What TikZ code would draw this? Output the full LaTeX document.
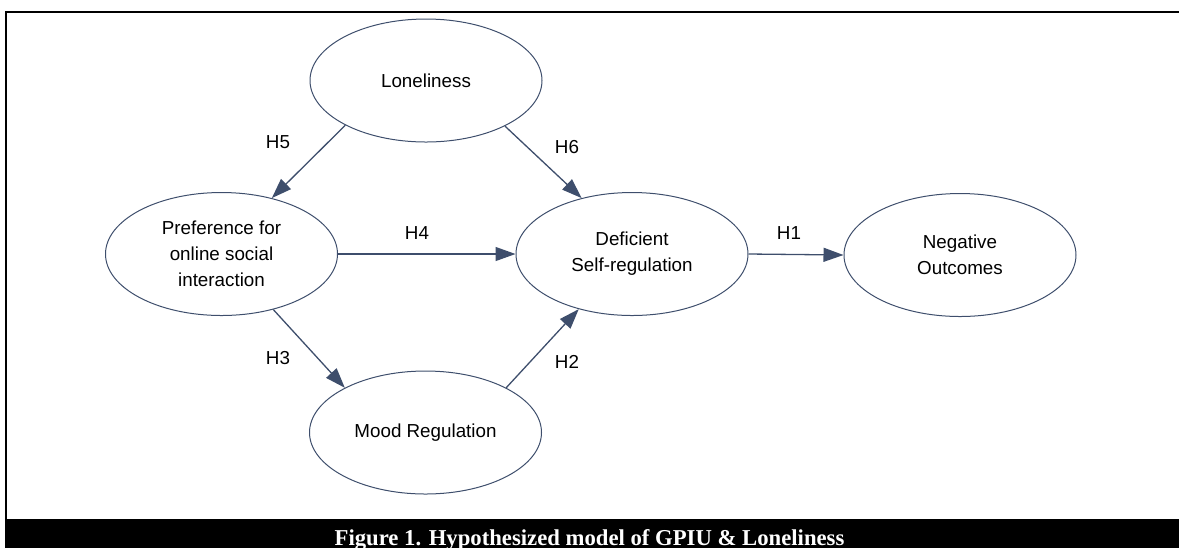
\documentclass[tikz,border=0pt]{standalone}
\usepackage{fontspec}
\setmainfont{Liberation Sans}
\newfontfamily\capfont{Liberation Serif}
\usepackage{tikz}
\usetikzlibrary{arrows.meta,shapes}
\definecolor{pathblue}{RGB}{62,78,108}

\begin{document}
\begin{tikzpicture}[x=0.5pt,y=-0.5pt,
    construct/.style={ellipse,draw=pathblue,line width=0.5pt,minimum width=116pt,minimum height=61.5pt,inner sep=0pt,align=center,font=\fontsize{9.4}{13}\selectfont},
    hyp/.style={draw=pathblue,line width=0.65pt,-{Triangle[length=10pt,width=7pt]}},
    hlabel/.style={font=\fontsize{9.4}{11}\selectfont}]
  \useasboundingbox (0,0) rectangle (1179,548);
  % frame and caption bar
  \draw[line width=1pt] (6,519) -- (6,12) -- (1179,12);
  \fill (5,519) rectangle (1179,548);
  \node[anchor=base,text=white,font=\capfont\bfseries\fontsize{11.35}{13}\selectfont] (caption) at (589.5,545) {Figure 1. Hypothesized model of GPIU \& Loneliness};
  % constructs
  \node[construct] (lon) at (426,80.5) {Loneliness};
  \node[construct] (posi) at (221.5,254) {Preference for\\online social\\interaction};
  \node[construct] (dsr) at (632,254) {Deficient\\Self-regulation};
  \node[construct] (neg) at (960,255) {Negative\\Outcomes};
  \node[construct] (mood) at (425.5,432.5) {Mood Regulation};
  % hypotheses
  \draw[hyp] (lon.209) -- (posi.48);
  \draw[hyp] (lon.330.5) -- (dsr.132);
  \draw[hyp] (posi.east) -- (dsr.west);
  \draw[hyp] (posi.-47) -- (mood.151);
  \draw[hyp] (mood.29) -- (dsr.226);
  \draw[hyp] (dsr.east) -- (neg.west);
  \node[hlabel] (h5) at (278,142) {H5};
  \node[hlabel] (h6) at (567,147) {H6};
  \node[hlabel] (h4) at (417,233) {H4};
  \node[hlabel] (h3) at (278,358) {H3};
  \node[hlabel] (h2) at (567,362) {H2};
  \node[hlabel] (h1) at (789,233) {H1};
\end{tikzpicture}
\end{document}
